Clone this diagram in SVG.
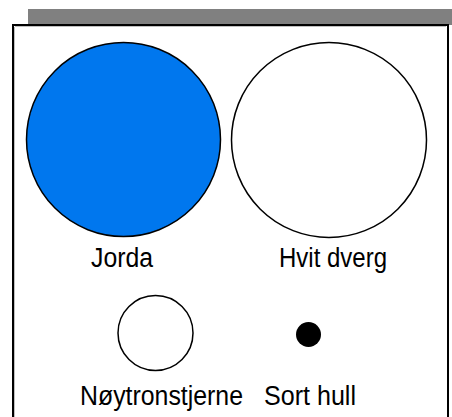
<svg xmlns="http://www.w3.org/2000/svg" width="452" height="417" viewBox="0 0 452 417">
<style>
.lbl{font-family:"Liberation Sans",Arial,sans-serif;font-size:27px;fill:#000;text-anchor:start}
.ring{stroke:#000;stroke-width:1.5}
</style>
<rect x="0" y="0" width="452" height="417" fill="#fff"/>
<rect x="28" y="9" width="424" height="16" fill="#808080"/>
<rect x="13" y="25" width="435" height="400" fill="#fff" stroke="#000" stroke-width="2"/>
<line x1="14.5" y1="27" x2="14.5" y2="417" stroke="#c0c0c0" stroke-width="1"/>
<line x1="15" y1="26.5" x2="446" y2="26.5" stroke="#c0c0c0" stroke-width="1"/>
<g id="jorda">
<circle class="ring" cx="123.5" cy="139.5" r="97" fill="#0077EE"/>
<text class="lbl" x="91" y="267" textLength="62" lengthAdjust="spacingAndGlyphs">Jorda</text>
</g>
<g id="hvit-dverg">
<circle class="ring" cx="329" cy="140" r="97.5" fill="#fff" stroke="#222"/>
<text class="lbl" x="279" y="267" textLength="108" lengthAdjust="spacingAndGlyphs">Hvit dverg</text>
</g>
<g id="noytronstjerne">
<circle class="ring" cx="155.5" cy="333" r="37.5" fill="#fff"/>
<text class="lbl" x="80" y="405" textLength="163" lengthAdjust="spacingAndGlyphs">Nøytronstjerne</text>
</g>
<g id="sort-hull">
<circle cx="308.5" cy="334.5" r="12.5" fill="#000"/>
<text class="lbl" x="264" y="405" textLength="92" lengthAdjust="spacingAndGlyphs">Sort hull</text>
</g>
<g id="connectors"></g>
</svg>
